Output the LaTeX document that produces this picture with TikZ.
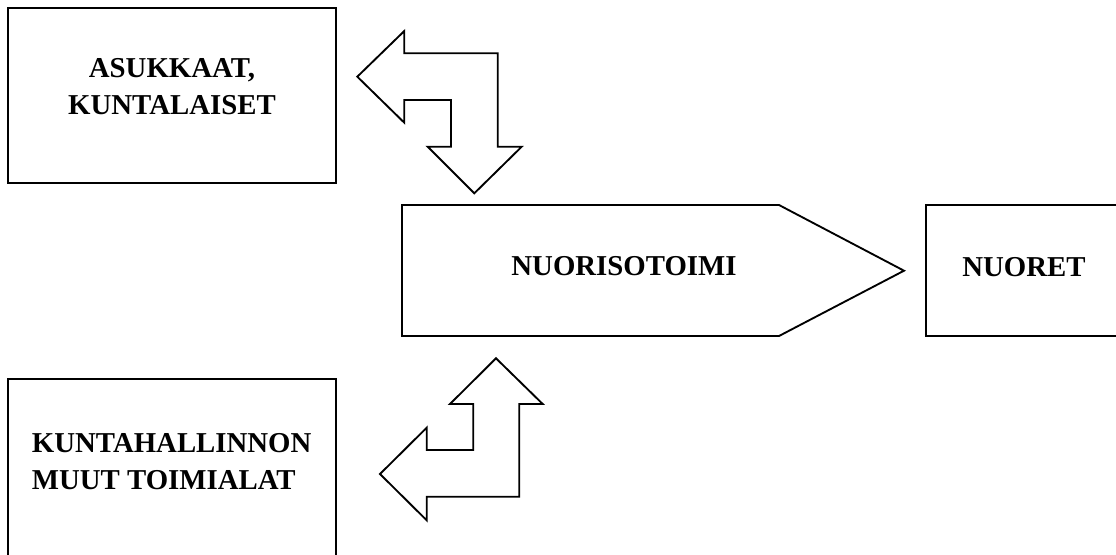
\documentclass[tikz,border=0pt]{standalone}
\usepackage{fontspec}
\setmainfont{Liberation Serif}

\begin{document}
\begin{tikzpicture}[x=0.75pt, y=-0.75pt, line width=1.4pt, line join=miter,
                    boxtext/.style={font=\fontsize{21.6}{27.5}\selectfont\bfseries, inner sep=0pt}]
                \useasboundingbox (0, 0) rectangle (1116, 554);

                \draw [] (8.3, 8.3) rectangle (336, 182.7);
                \draw [] (8.3, 379.3) rectangle (336, 570);
                \draw [] (402, 205) -- (779, 205) -- (904, 270.7) -- (779, 336) -- (402, 336) -- cycle;
                \draw [] (925.7, 205) rectangle (1130, 336);

                \draw [] (357.3, 76.7) -- (404.3, 31) -- (404.3, 53.3) -- (497.7, 53.3) -- (497.7, 146.7)
                         -- (521.7, 146.7) -- (474.3, 193.3) -- (427.7, 146.7) -- (451, 146.7)
                         -- (451, 100) -- (404.3, 100) -- (404.3, 122.7) -- cycle;
                \draw [] (496, 358.3) -- (542.7, 404) -- (519.3, 404) -- (519.3, 496.7) -- (426.7, 496.7)
                         -- (426.7, 520.3) -- (380, 474) -- (426.7, 427.7) -- (426.7, 450)
                         -- (473.3, 450) -- (473.3, 404) -- (450, 404) -- cycle;

                \node [boxtext, align=center] (asukkaat) at (172, 86.3) {ASUKKAAT,\\KUNTALAISET};
                \node [boxtext, align=left, anchor=west] (kunta) at (31, 461.7) {KUNTAHALLINNON\\MUUT TOIMIALAT};
                \node [boxtext] (nuoriso) at (624, 266.5) {NUORISOTOIMI};
                \node [boxtext] (nuoret) at (1024, 266.7) {NUORET};
            \end{tikzpicture}
\end{document}
